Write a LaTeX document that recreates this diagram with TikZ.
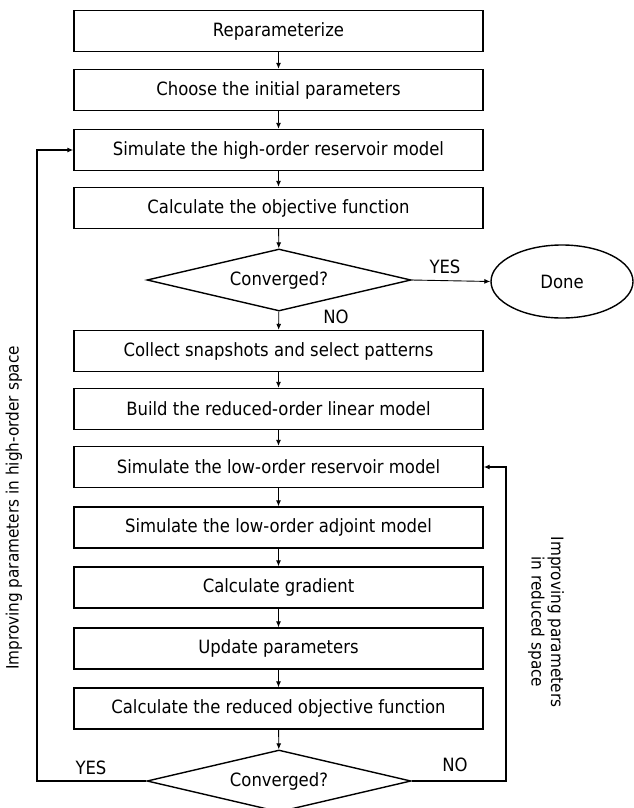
\documentclass[tikz,border=0pt]{standalone}
\usepackage{fontspec}
\setmainfont{DejaVu Sans Condensed}
\usepackage{tikz}
\usetikzlibrary{arrows.meta,shapes.geometric}

\tikzset{
  stepbox/.style={draw,line width=1.4pt,minimum width=409pt,minimum height=41pt,inner sep=0pt},
  testbox/.style={draw,line width=1.4pt,diamond,aspect=4.26,minimum width=264pt,minimum height=62pt,inner sep=0pt},
  arr/.style={line width=.9pt,-{Latex[length=6pt,width=5pt]}},
  loop/.style={line width=2pt,-{Latex[length=6pt,width=5pt]}},
  sidetxt/.style={font=\fontsize{17}{19.5}\selectfont},
}

\begin{document}
\begin{tikzpicture}[x=1pt,y=-1pt,font=\fontsize{18.3}{21}\selectfont]
      \useasboundingbox (0,0) rectangle (634,808);

      % high-order part
      \foreach \n/\y/\t in {1/31/Reparameterize, 2/90/Choose the initial parameters,
          3/150/Simulate the high-order reservoir model, 4/208/Calculate the objective function}{
        \node[stepbox] (b\n) at (278.5,\y) {\t};
      }
      \node[testbox] (conv1) at (279,280) {Converged?};
      \node[draw,line width=1.4pt,ellipse,minimum width=142pt,minimum height=73pt] (done) at (562,281.5) {Done};

      % reduced-order part
      \foreach \n/\y/\t in {5/351/Collect snapshots and select patterns, 6/409/Build the reduced-order linear model,
          7/467/Simulate the low-order reservoir model, 8/527.5/Simulate the low-order adjoint model,
          9/587.5/Calculate gradient, 10/648.5/Update parameters, 11/708.5/Calculate the reduced objective function}{
        \node[stepbox] (b\n) at (278.5,\y) {\t};
      }
      \node[testbox] (conv2) at (279,781) {Converged?};

      % arrows
      \foreach \i/\j in {1/2,2/3,3/4,5/6,6/7,7/8,8/9,9/10,10/11}{
        \draw[arr] (b\i) -- (b\j);
      }
      \draw[arr] (b4) -- (conv1);
      \draw[arr] (conv1) -- (b5);
      \draw[arr] (conv1.east) -- (done.west);
      \draw[arr] (b11) -- (conv2);
      \node (yes1) at (445,267) {YES};
      \node (no1) at (336,317) {NO};

      % loops
      \coordinate (lcorner) at (37,781);
      \coordinate (rcorner) at (506,781);
      \draw[loop] (conv2.west) -- (lcorner) |- (b3.west);
      \draw[loop] (conv2.east) -- (rcorner) |- (b7.east);
      \node (yes2) at (91,768) {YES};
      \node (no2) at (455,765) {NO};
      \node[sidetxt,rotate=90] (hightxt) at (14,508) {Improving parameters in high-order space};
      \node[sidetxt,rotate=-90,align=center] (lowtxt) at (546,622) {Improving parameters\\in reduced space};

    \end{tikzpicture}
\end{document}
